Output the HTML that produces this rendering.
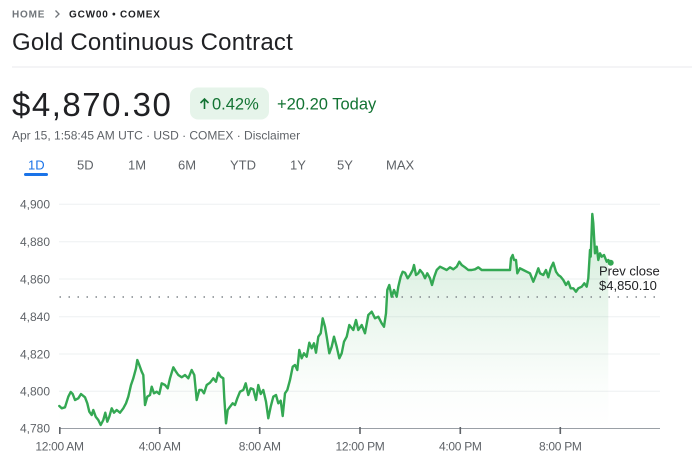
<!DOCTYPE html>
<html>
<head>
<meta charset="utf-8">
<style>
  html,body{margin:0;padding:0;background:#fff;}
  body{width:692px;height:462px;overflow:hidden;}
  svg{display:block;}
  text{font-family:"Liberation Sans", Arial, sans-serif;}
</style>
</head>
<body>
<svg width="692" height="462" viewBox="0 0 692 462" xmlns="http://www.w3.org/2000/svg">
  <defs>
    <linearGradient id="g" x1="0" y1="214" x2="0" y2="428" gradientUnits="userSpaceOnUse">
      <stop offset="0" stop-color="#34a853" stop-opacity="0.22"/>
      <stop offset="0.8" stop-color="#34a853" stop-opacity="0.02"/>
      <stop offset="1" stop-color="#34a853" stop-opacity="0"/>
    </linearGradient>
  </defs>

  <!-- breadcrumb -->
  <text x="12" y="17.3" font-size="10" font-weight="bold" fill="#70757a" letter-spacing="0.8">HOME</text>
  <polyline points="55.5,10.5 59,14 55.5,17.5" fill="none" stroke="#70757a" stroke-width="1.3"/>
  <text x="69" y="17.3" font-size="10" font-weight="bold" fill="#202124" letter-spacing="0.8">GCW00 • COMEX</text>

  <!-- title -->
  <text x="12" y="50" font-size="24" fill="#202124" letter-spacing="0.2">Gold Continuous Contract</text>
  <line x1="12" y1="67" x2="692" y2="67" stroke="#e8eaed" stroke-width="1"/>

  <!-- price -->
  <text x="12" y="116" font-size="33" fill="#202124" letter-spacing="1.5">$4,870.30</text>
  <rect x="190" y="87.5" width="79" height="32" rx="8" fill="#e6f4ea"/>
  <line x1="204.5" y1="109" x2="204.5" y2="99" stroke="#137333" stroke-width="1.6"/>
  <polyline points="200.5,103 204.5,99 208.5,103" fill="none" stroke="#137333" stroke-width="1.6"/>
  <text x="212" y="109.3" font-size="16.5" fill="#137333">0.42%</text>
  <text x="277" y="109.3" font-size="16.5" fill="#137333">+20.20 Today</text>

  <text x="12" y="139.3" font-size="12" fill="#5f6368">Apr 15, 1:58:45 AM UTC · USD · COMEX · Disclaimer</text>

  <!-- tabs -->
  <g font-size="13" fill="#5f6368">
    <text x="28" y="169.3" fill="#1a73e8">1D</text>
    <text x="77" y="169.3">5D</text>
    <text x="128" y="169.3">1M</text>
    <text x="178" y="169.3">6M</text>
    <text x="230" y="169.3">YTD</text>
    <text x="290" y="169.3">1Y</text>
    <text x="337" y="169.3">5Y</text>
    <text x="386" y="169.3">MAX</text>
  </g>
  <rect x="24" y="173" width="24" height="3" rx="1.5" fill="#1a73e8"/>

  <!-- gridlines -->
  <g stroke="#eef0f2" stroke-width="1">
    <line x1="59" y1="204.3" x2="660" y2="204.3"/>
    <line x1="59" y1="241.7" x2="660" y2="241.7"/>
    <line x1="59" y1="279" x2="660" y2="279"/>
    <line x1="59" y1="316.7" x2="660" y2="316.7"/>
    <line x1="59" y1="354" x2="660" y2="354"/>
    <line x1="59" y1="391.3" x2="660" y2="391.3"/>
  </g>

  <!-- y labels -->
  <g font-size="12" fill="#5f6368" text-anchor="end">
    <text x="50" y="208.6">4,900</text>
    <text x="50" y="246">4,880</text>
    <text x="50" y="283.3">4,860</text>
    <text x="50" y="321">4,840</text>
    <text x="50" y="358.3">4,820</text>
    <text x="50" y="395.6">4,800</text>
    <text x="50" y="432.6">4,780</text>
  </g>

  <!-- fill -->
  <polygon fill="url(#g)" points="59.3,406 61.7,408.3 65,407.3 68.3,396.7 70.7,392 72.7,394 75,400 78.3,398.3 81,394 85,397.3 87.3,403.3 89.3,411.7 91.7,415 93.3,410 95.7,416.7 98.3,420 100.7,425 103.3,420 105.3,412.7 107.3,421.7 109.3,416.7 111.7,408.3 114,412.7 116.7,410 120,412.7 123.3,408.3 126,403.3 128.3,396.7 131,385 133.3,378.3 136,368.3 137.3,360 139.3,365 141.7,371.7 143.3,375 145,405 147.3,396.7 150,395 151.7,386.7 154,393.3 156.7,391.7 159.3,394 161.7,383.3 165,385 167.7,388.3 170,378.3 173.3,367.3 176,371.7 178.3,375 181.7,377.3 185,375 188.3,378.3 191.7,370 194.3,375 196.7,400 199.3,390 201.7,390 204,393.3 206.7,385 210,382.7 213.3,378.3 216,381.7 218.3,372.7 220.7,376.7 223.3,378.3 224.3,398.3 226,423.3 227.7,410 230,406.7 232.7,403.3 235,405 237.3,398.3 240,391.7 243.3,390 245.7,383.3 248.3,395 250.7,388.3 253.3,389.3 256,400 258.3,385 260.7,394 263.3,390 266,401.7 268.3,418.3 270.7,406.7 273.3,396.7 276,395 278.3,403.3 280.7,400.7 282.7,416 285,393.3 287.3,390 290,380 292.7,366.7 295,365 297.3,370 299.3,350 301.7,358.3 304,353.3 306.7,356.7 309.3,342.7 311.7,348.3 314,343.3 316,352.7 318.3,336.7 320.7,333.3 322.7,318.3 325,326.7 326.7,336.7 329.3,353.3 331.7,346.7 334,336.7 336.7,346.7 339.3,358.3 341.7,353.3 344,341.7 346.7,336.7 349.3,325 353.3,330 356,320 358.3,330 361.7,325 365,333.3 368.3,315 371.7,311.7 375,318.3 378.3,316.7 381.7,323.3 384,326.7 386,313.3 387.3,290 389.3,285 391.7,296.7 394,290 396.7,296.7 398.3,286.7 400.7,276.7 402.7,271.7 405,272.7 407.7,278.3 410,275 412.7,270 414,265 416,275 418.3,273.3 420,270 422.7,273.3 425,278.3 427.3,273.3 430,278.3 432,285 434.3,276.7 436.7,270 440,266.7 443.3,268.3 446.7,270 450,267.3 453.3,269.3 456.7,266.7 459.3,261.7 461.7,265 465,267.3 468.3,270 471.7,270 475,269.3 478.3,267.3 481.7,270 510,270 511,258.3 512.7,255 514,260 516,260 517.3,273.3 520,268.3 523.3,270 526.7,271.7 530,273.3 533.3,281.7 536,275 538.3,268.3 540,273.3 543.3,275 546,270 548.3,277.3 550.7,268.3 553.3,262.7 556,271.7 558.3,275 560.7,276.7 563.3,280 566,285 568.3,281.7 570.7,288.3 573.3,288.3 576,291.7 578.3,288.3 581.7,286.7 584.3,283.3 586.7,286.7 588.3,278.3 590,250 590.7,256.7 592.3,214 593.3,223.3 595,253.3 596.7,246.7 598.3,260 600,253.3 601.7,256.7 604,255 606.7,261.7 608.3,260 608.3,428 59.3,428"/>

  <!-- prev close dotted line -->
  <line x1="59.5" y1="297" x2="656" y2="297" stroke="#80868b" stroke-width="1.5" stroke-dasharray="1.5 7.5"/>

  <!-- axis -->
  <line x1="59" y1="428.5" x2="660" y2="428.5" stroke="#9aa0a6" stroke-width="1"/>
  <g stroke="#5f6368" stroke-width="1.6">
    <line x1="59.8" y1="427" x2="59.8" y2="434"/>
    <line x1="159.7" y1="427" x2="159.7" y2="434"/>
    <line x1="259.7" y1="427" x2="259.7" y2="434"/>
    <line x1="360" y1="427" x2="360" y2="434"/>
    <line x1="460.3" y1="427" x2="460.3" y2="434"/>
    <line x1="560.3" y1="427" x2="560.3" y2="434"/>
  </g>
  <g font-size="12" fill="#5f6368" text-anchor="middle" letter-spacing="-0.3">
    <text x="59.5" y="450.7">12:00 AM</text>
    <text x="159.7" y="450.7">4:00 AM</text>
    <text x="259.7" y="450.7">8:00 AM</text>
    <text x="360" y="450.7">12:00 PM</text>
    <text x="460.3" y="450.7">4:00 PM</text>
    <text x="560.3" y="450.7">8:00 PM</text>
  </g>

  <!-- series line -->
  <polyline fill="none" stroke="#34a853" stroke-width="2.4" stroke-linejoin="round" stroke-linecap="round" points="59.3,406 61.7,408.3 65,407.3 68.3,396.7 70.7,392 72.7,394 75,400 78.3,398.3 81,394 85,397.3 87.3,403.3 89.3,411.7 91.7,415 93.3,410 95.7,416.7 98.3,420 100.7,425 103.3,420 105.3,412.7 107.3,421.7 109.3,416.7 111.7,408.3 114,412.7 116.7,410 120,412.7 123.3,408.3 126,403.3 128.3,396.7 131,385 133.3,378.3 136,368.3 137.3,360 139.3,365 141.7,371.7 143.3,375 145,405 147.3,396.7 150,395 151.7,386.7 154,393.3 156.7,391.7 159.3,394 161.7,383.3 165,385 167.7,388.3 170,378.3 173.3,367.3 176,371.7 178.3,375 181.7,377.3 185,375 188.3,378.3 191.7,370 194.3,375 196.7,400 199.3,390 201.7,390 204,393.3 206.7,385 210,382.7 213.3,378.3 216,381.7 218.3,372.7 220.7,376.7 223.3,378.3 224.3,398.3 226,423.3 227.7,410 230,406.7 232.7,403.3 235,405 237.3,398.3 240,391.7 243.3,390 245.7,383.3 248.3,395 250.7,388.3 253.3,389.3 256,400 258.3,385 260.7,394 263.3,390 266,401.7 268.3,418.3 270.7,406.7 273.3,396.7 276,395 278.3,403.3 280.7,400.7 282.7,416 285,393.3 287.3,390 290,380 292.7,366.7 295,365 297.3,370 299.3,350 301.7,358.3 304,353.3 306.7,356.7 309.3,342.7 311.7,348.3 314,343.3 316,352.7 318.3,336.7 320.7,333.3 322.7,318.3 325,326.7 326.7,336.7 329.3,353.3 331.7,346.7 334,336.7 336.7,346.7 339.3,358.3 341.7,353.3 344,341.7 346.7,336.7 349.3,325 353.3,330 356,320 358.3,330 361.7,325 365,333.3 368.3,315 371.7,311.7 375,318.3 378.3,316.7 381.7,323.3 384,326.7 386,313.3 387.3,290 389.3,285 391.7,296.7 394,290 396.7,296.7 398.3,286.7 400.7,276.7 402.7,271.7 405,272.7 407.7,278.3 410,275 412.7,270 414,265 416,275 418.3,273.3 420,270 422.7,273.3 425,278.3 427.3,273.3 430,278.3 432,285 434.3,276.7 436.7,270 440,266.7 443.3,268.3 446.7,270 450,267.3 453.3,269.3 456.7,266.7 459.3,261.7 461.7,265 465,267.3 468.3,270 471.7,270 475,269.3 478.3,267.3 481.7,270 510,270 511,258.3 512.7,255 514,260 516,260 517.3,273.3 520,268.3 523.3,270 526.7,271.7 530,273.3 533.3,281.7 536,275 538.3,268.3 540,273.3 543.3,275 546,270 548.3,277.3 550.7,268.3 553.3,262.7 556,271.7 558.3,275 560.7,276.7 563.3,280 566,285 568.3,281.7 570.7,288.3 573.3,288.3 576,291.7 578.3,288.3 581.7,286.7 584.3,283.3 586.7,286.7 588.3,278.3 590,250 590.7,256.7 592.3,214 593.3,223.3 595,253.3 596.7,246.7 598.3,260 600,253.3 601.7,256.7 604,255 606.7,261.7 608.3,260 610.7,262.7"/>
  <circle cx="610.7" cy="262.7" r="3" fill="#34a853"/>

  <!-- prev close label -->
  <text x="599" y="275.5" font-size="13" fill="#202124">Prev close</text>
  <text x="599" y="290" font-size="13" fill="#202124">$4,850.10</text>
</svg>
</body>
</html>
